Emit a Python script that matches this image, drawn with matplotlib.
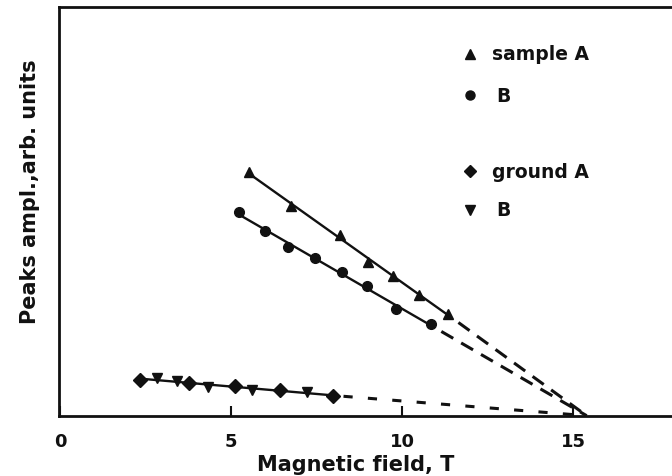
import numpy as np
import matplotlib
matplotlib.use("Agg")
import matplotlib.pyplot as plt

plt.rcParams['font.family'] = ['DejaVu Sans']
plt.rcParams['font.weight'] = 'bold'

# ---- data (field in T, amplitude in arbitrary units) ----
sampleA_x = [5.54, 6.75, 8.19, 9.01, 9.75, 10.51, 11.35]
sampleA_y = [59.6, 51.4, 44.2, 37.7, 34.1, 29.6, 24.9]

sampleB_x = [5.23, 5.99, 6.68, 7.46, 8.24, 8.97, 9.82, 10.85]
sampleB_y = [50.0, 45.2, 41.4, 38.5, 35.1, 31.8, 26.1, 22.5]

groundA_x = [2.34, 3.78, 5.12, 6.43, 7.99]
groundA_y = [8.8, 7.9, 7.2, 6.3, 4.9]

groundB_x = [2.83, 3.41, 4.34, 5.60, 7.23]
groundB_y = [9.2, 8.6, 7.1, 6.4, 5.7]

x_zero = 15.4          # extrapolated field where amplitude vanishes
x_ticks = [0, 5, 10, 15]
x_ticklabels = ['0', '5', '10', '15']

INK = '#111111'

fig = plt.figure(figsize=(6.72, 4.77), dpi=100)
W, H = 672, 477
ax_left, ax_right, ax_top, ax_bottom = 59.3, 672.0, 8.3, 416.7
ax = fig.add_axes([ax_left / W, 1 - ax_bottom / H,
                   (ax_right - ax_left) / W, (ax_bottom - ax_top) / H])

x_per_px = 1 / 34.2
ax.set_xlim((ax_left - 60) * x_per_px, (ax_right - 60) * x_per_px)
ax.set_ylim(0, 100)


def fit_and_draw(xs, ys, dash):
    xs = np.asarray(xs); ys = np.asarray(ys)
    k, b = np.polyfit(xs, ys, 1)
    x0, x1 = xs.min(), xs.max()
    ax.plot([x0, x1], [k * x0 + b, k * x1 + b], color=INK, lw=1.7,
            solid_capstyle='round', zorder=2)
    ax.plot([x1 + 0.3, x_zero], [k * (x1 + 0.3) + b, 0], color=INK, lw=2.2,
            linestyle=dash, zorder=2)


fit_and_draw(sampleA_x, sampleA_y, (0, (4.5, 3)))
fit_and_draw(sampleB_x, sampleB_y, (0, (4.5, 3)))
fit_and_draw(groundA_x + groundB_x, groundA_y + groundB_y, (0, (3, 5)))

ax.plot(sampleA_x, sampleA_y, linestyle='none', marker='^', ms=7.5, color=INK, zorder=3)
ax.plot(sampleB_x, sampleB_y, linestyle='none', marker='o', ms=7, color=INK, zorder=3)
ax.plot(groundA_x, groundA_y, linestyle='none', marker='D', ms=7, color=INK, zorder=3)
ax.plot(groundB_x, groundB_y, linestyle='none', marker='v', ms=7, color=INK, zorder=3)

# ---- in-plot legend ----
leg_items = [('^', 'sample A', 0.886, 0.706),
             ('o', 'B', 0.785, 0.713),
             ('D', 'ground A', 0.598, 0.706),
             ('v', 'B', 0.504, 0.713)]
for m, label, yy, tx in leg_items:
    ax.plot([0.670], [yy], marker=m, ms=6.5 if m != 'D' else 6, color=INK,
            transform=ax.transAxes, clip_on=False, linestyle='none')
    ax.text(tx, yy, label, transform=ax.transAxes, fontsize=13.5,
            fontweight='bold', va='center', ha='left', color=INK)

# ---- axes styling ----
ax.spines['right'].set_visible(False)
for s in ['left', 'bottom', 'top']:
    ax.spines[s].set_linewidth(2.0)
    ax.spines[s].set_color(INK)
ax.set_xticks(x_ticks)
ax.set_xticklabels(x_ticklabels, fontsize=13, fontweight='bold', color=INK)
ax.tick_params(axis='x', direction='in', length=7, width=1.5, pad=12, colors=INK)
ax.set_yticks([])

fig.text(356 / W, 1 - 465 / H, 'Magnetic field, T', fontsize=15,
         fontweight='bold', ha='center', va='center', color=INK)
fig.text(30 / W, 1 - 192 / H, 'Peaks ampl.,arb. units', fontsize=15,
         fontweight='bold', ha='center', va='center', rotation=90, color=INK)

fig.savefig('out.png', dpi=100, facecolor='white')
